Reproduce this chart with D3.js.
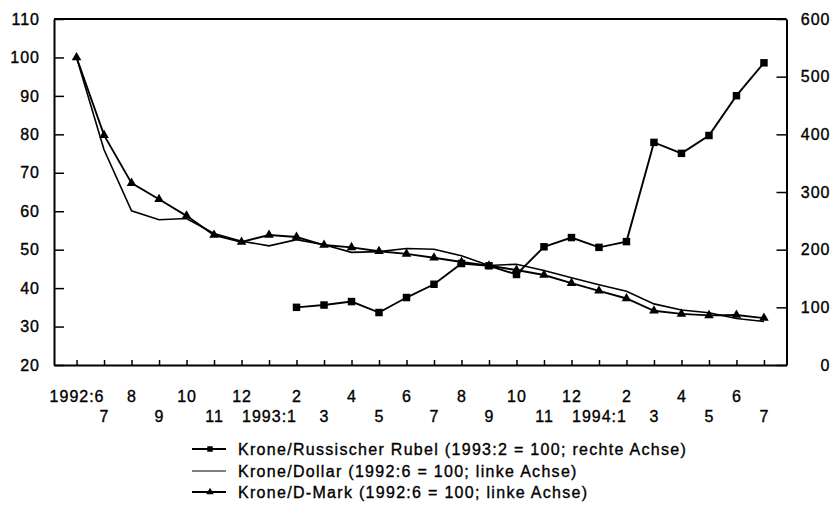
<!DOCTYPE html>
<html>
<head>
<meta charset="utf-8">
<script src="https://cdn.jsdelivr.net/npm/d3@7"></script>
<style>
  body { margin: 0; background: #fff; }
  text { font-family: "Liberation Sans", Arial, sans-serif; fill: #000; stroke: #000; stroke-width: 0.35px; letter-spacing: 1px; }
  .legend text { letter-spacing: 1.3px; }
</style>
</head>
<body>
<svg class="display"></svg>
<script>
const months = ['1992:6', '7', '8', '9', '10', '11', '12',
  '1993:1', '2', '3', '4', '5', '6', '7', '8', '9', '10', '11', '12',
  '1994:1', '2', '3', '4', '5', '6', '7'];

// Krone/Dollar (1992:6 = 100), left axis
const dollar = [100, 76, 60.1, 57.8, 58.1, 54.2, 52.2, 51.0, 52.6, 51.3, 49.3, 49.5, 50.3,
  50.1, 48.4, 45.9, 46.2, 44.6, 42.7, 40.9, 39.2, 35.9, 34.3, 33.6, 32.1, 31.3];

// Krone/D-Mark (1992:6 = 100), left axis
const dmark = [100, 79.8, 67.3, 63.1, 58.8, 53.8, 52.0, 53.8, 53.3, 51.2, 50.6, 49.6, 48.9,
  47.9, 46.8, 45.8, 44.7, 43.4, 41.3, 39.3, 37.3, 34.1, 33.3, 32.9, 33.0, 32.2];

// Krone/Russischer Rubel (1993:2 = 100), right axis, starts 1993:2
const rubelStart = 8;
const rubel = [100, 104, 110, 91, 117, 140, 176, 172, 157, 205, 221, 204, 214,
  386, 367, 398, 467, 524];

const leftTicks = [20, 30, 40, 50, 60, 70, 80, 90, 100, 110];
const rightTicks = [0, 100, 200, 300, 400, 500, 600];

const legendLabels = [
  'Krone/Russischer Rubel (1993:2 = 100; rechte Achse)',
  'Krone/Dollar (1992:6 = 100; linke Achse)',
  'Krone/D-Mark (1992:6 = 100; linke Achse)'
];

const width = 836;
const height = 506;
const plotLeft = 54, plotRight = 786.5, plotTop = 19, plotBottom = 365;

const svg = d3.select('.display')
  .attr('width', width)
  .attr('height', height);

const x = d3.scaleLinear()
  .domain([-0.82, months.length - 1 + 0.82])
  .range([plotLeft, plotRight]);

const yL = d3.scaleLinear().domain([20, 110]).range([plotBottom, plotTop]);
const yR = d3.scaleLinear().domain([0, 600]).range([plotBottom, plotTop]);

// frame top line
svg.append('line')
  .attr('x1', plotLeft).attr('x2', plotRight)
  .attr('y1', plotTop).attr('y2', plotTop)
  .attr('stroke', '#000').attr('stroke-width', 2);

const gL = svg.append('g')
  .attr('transform', 'translate(' + plotLeft + ',0)')
  .call(d3.axisLeft(yL).tickValues(leftTicks).tickSize(-10).tickSizeOuter(0).tickPadding(14));

const gR = svg.append('g')
  .attr('transform', 'translate(' + plotRight + ',0)')
  .call(d3.axisRight(yR).tickValues(rightTicks).tickSize(-10).tickSizeOuter(0).tickPadding(44));
gR.selectAll('text').attr('text-anchor', 'end');

const gB = svg.append('g')
  .attr('transform', 'translate(0,' + plotBottom + ')')
  .call(d3.axisBottom(x).tickValues(d3.range(months.length))
    .tickFormat(i => months[i]).tickSize(-5).tickSizeOuter(0));
gB.selectAll('text')
  .attr('y', (d, i) => i % 2 === 0 ? 37 : 57)
  .attr('dy', 0);

[gL, gR, gB].forEach(g => {
  g.selectAll('.domain').attr('stroke', '#000').attr('stroke-width', 2);
  g.selectAll('.tick line').attr('stroke', '#000').attr('stroke-width', 1.5);
  g.selectAll('text').style('font-size', '16px');
});

const lineL = d3.line().x((d, i) => x(i)).y(d => yL(d));
const lineR = d3.line().x((d, i) => x(i + rubelStart)).y(d => yR(d));

svg.append('path').datum(dollar)
  .attr('d', lineL).attr('fill', 'none')
  .attr('stroke', '#000').attr('stroke-width', 1.6);

svg.append('path').datum(dmark)
  .attr('d', lineL).attr('fill', 'none')
  .attr('stroke', '#000').attr('stroke-width', 1.9);

svg.append('path').datum(rubel)
  .attr('d', lineR).attr('fill', 'none')
  .attr('stroke', '#000').attr('stroke-width', 1.9);

const tri = d3.symbol().type(d3.symbolTriangle).size(40);
const sq = d3.symbol().type(d3.symbolSquare).size(56);

svg.append('g').selectAll('path')
  .data(dmark)
  .join('path')
  .attr('d', tri)
  .attr('transform', (d, i) => 'translate(' + x(i) + ',' + yL(d) + ')')
  .attr('fill', '#000');

svg.append('g').selectAll('path')
  .data(rubel)
  .join('path')
  .attr('d', sq)
  .attr('transform', (d, i) => 'translate(' + x(i + rubelStart) + ',' + yR(d) + ')')
  .attr('fill', '#000');

// legend
const legend = svg.append('g').attr('class', 'legend').attr('transform', 'translate(192,0)');
const rows = legend.selectAll('g')
  .data(legendLabels)
  .join('g')
  .attr('transform', (d, i) => 'translate(0,' + [449, 471, 492][i] + ')');

rows.append('line')
  .attr('x1', 0).attr('x2', 34)
  .attr('stroke', '#000')
  .attr('stroke-width', (d, i) => i === 1 ? 1 : 1.8);

rows.filter((d, i) => i === 0).append('path')
  .attr('d', d3.symbol().type(d3.symbolSquare).size(30))
  .attr('transform', 'translate(18,0)');

rows.filter((d, i) => i === 2).append('path')
  .attr('d', d3.symbol().type(d3.symbolTriangle).size(24))
  .attr('transform', 'translate(18,0)');

rows.append('text')
  .attr('x', 46)
  .attr('y', 6)
  .style('font-size', '16px')
  .text(d => d);
</script>
</body>
</html>
